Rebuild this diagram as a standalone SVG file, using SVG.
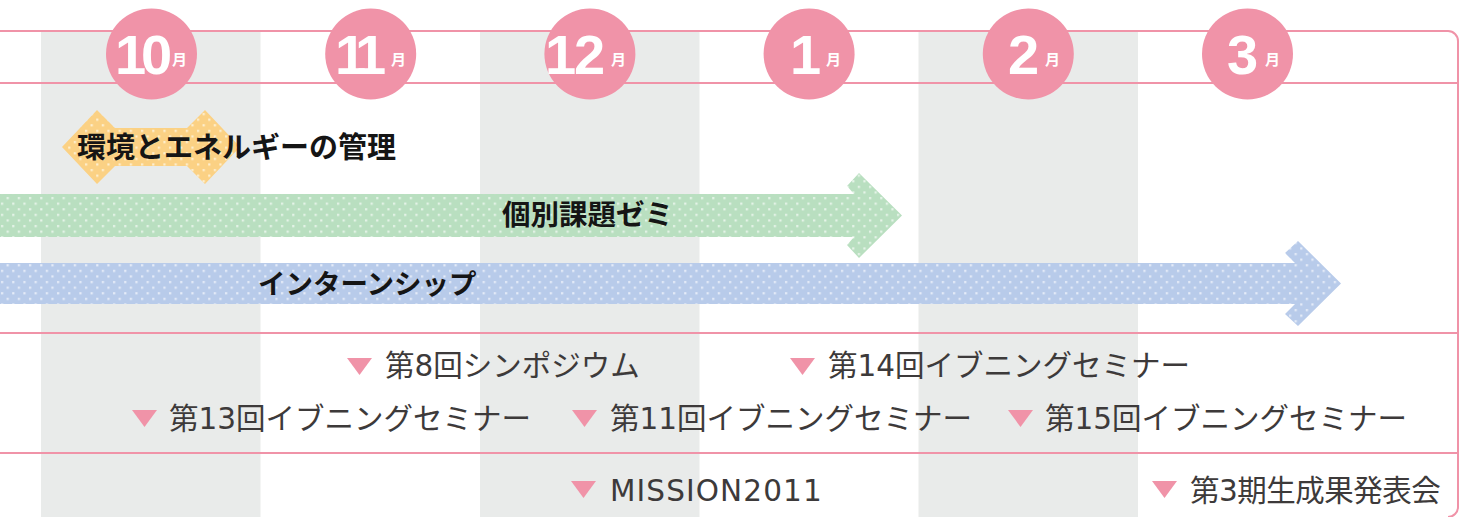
<svg xmlns="http://www.w3.org/2000/svg" xmlns:xlink="http://www.w3.org/1999/xlink" width="1461" height="517" viewBox="0 0 1461 517">
  <defs>
    <style>
      .col { fill: #e9ebea; }
      .line { stroke: #f093a8; stroke-width: 2; fill: none; }
      .circ { fill: #f093a8; }
      .num { font-family: "Liberation Sans", Arial, sans-serif; font-weight: bold; font-size: 56px; fill: #ffffff; }
      .mon { font-family: "Noto Sans CJK JP", sans-serif; font-weight: bold; font-size: 15px; fill: #ffffff; }
      .title { font-family: "Noto Sans CJK JP", sans-serif; font-weight: bold; fill: #151515; }
      .ev { font-family: "DejaVu Sans", "Noto Sans CJK JP", sans-serif; font-size: 29.5px; fill: #3d3a3a; }
      .tri { fill: #f093a8; }
    </style>
    <pattern id="dotsG" width="11.2" height="11.2" patternUnits="userSpaceOnUse">
      <rect width="11.2" height="11.2" fill="#b9dfc0"/>
      <rect x="1" y="1" width="2.2" height="2.2" fill="#e6f4e9"/>
      <rect x="6.6" y="6.6" width="2.2" height="2.2" fill="#e6f4e9"/>
    </pattern>
    <pattern id="dotsB" width="11.2" height="11.2" patternUnits="userSpaceOnUse">
      <rect width="11.2" height="11.2" fill="#b8cbea"/>
      <rect x="1" y="1" width="2.2" height="2.2" fill="#e5ecf8"/>
      <rect x="6.6" y="6.6" width="2.2" height="2.2" fill="#e5ecf8"/>
    </pattern>
    <pattern id="dotsO" width="11.2" height="11.2" patternUnits="userSpaceOnUse">
      <rect width="11.2" height="11.2" fill="#fbd184"/>
      <rect x="1" y="1" width="2.2" height="2.2" fill="#feefd0"/>
      <rect x="6.6" y="6.6" width="2.2" height="2.2" fill="#feefd0"/>
    </pattern>
    <path id="tri" d="M0,0 H25 L12.5,17 Z"/>
  </defs>

  <rect width="1461" height="517" fill="#ffffff"/>

  <g id="columns">
    <rect class="col" x="41" y="31" width="219.5" height="486"/>
    <rect class="col" x="480" y="31" width="219.5" height="486"/>
    <rect class="col" x="918.5" y="31" width="219.5" height="486"/>
  </g>

  <g id="grid">
    <path class="line" d="M0,31 H1448 A10,10 0 0 1 1458,41 V507 A10,10 0 0 1 1448,517"/>
    <line class="line" x1="0" y1="83" x2="1458" y2="83"/>
    <line class="line" x1="0" y1="333" x2="1458" y2="333"/>
    <line class="line" x1="0" y1="453" x2="1458" y2="453"/>
  </g>

  <g id="month-10">
    <circle class="circ" cx="151.5" cy="54" r="45.5"/>
    <text class="num" x="115 141" y="74">10</text>
    <text class="mon" x="172" y="65">月</text>
  </g>
  <g id="month-11">
    <circle class="circ" cx="370.7" cy="54" r="45.5"/>
    <text class="num" x="335 355" y="74">11</text>
    <text class="mon" x="391" y="65">月</text>
  </g>
  <g id="month-12">
    <circle class="circ" cx="589.9" cy="54" r="45.5"/>
    <text class="num" x="545 574" y="74">12</text>
    <text class="mon" x="611" y="65">月</text>
  </g>
  <g id="month-1">
    <circle class="circ" cx="809.1" cy="54" r="45.5"/>
    <text class="num" x="790" y="74">1</text>
    <text class="mon" x="826" y="65">月</text>
  </g>
  <g id="month-2">
    <circle class="circ" cx="1028.3" cy="54" r="45.5"/>
    <text class="num" x="1008" y="74">2</text>
    <text class="mon" x="1045" y="65">月</text>
  </g>
  <g id="month-3">
    <circle class="circ" cx="1247.5" cy="54" r="45.5"/>
    <text class="num" x="1227" y="74">3</text>
    <text class="mon" x="1265" y="65">月</text>
  </g>

  <g id="bar-energy">
    <polygon fill="url(#dotsO)" points="62,147 97,110 109,122 115,128 187,128 193,122 205,110 240,147 205,184 193,172 187,166 115,166 109,172 97,184"/>
    <text class="title" x="77" y="158" font-size="29">環境とエネルギーの管理</text>
  </g>
  <g id="bar-seminar">
    <polygon fill="url(#dotsG)" points="0,194 854,194 847,186 859,173 902,215.5 859,258 847,245 854,237 0,237"/>
    <text class="title" x="502" y="224.5" font-size="28.5">個別課題ゼミ</text>
  </g>
  <g id="bar-intern">
    <polygon fill="url(#dotsB)" points="0,263 1295,263 1285,253 1298,241 1341,283.5 1298,326 1285,314 1295,304 0,304"/>
    <text class="title" x="258" y="293.5" font-size="27.5">インターンシップ</text>
  </g>

  <g id="ev-symposium8">
    <use xlink:href="#tri" class="tri" x="347" y="358"/>
    <text class="ev" x="385" y="376">第8回シンポジウム</text>
  </g>
  <g id="ev-evening14">
    <use xlink:href="#tri" class="tri" x="790" y="358"/>
    <text class="ev" x="828" y="376">第14回イブニングセミナー</text>
  </g>
  <g id="ev-evening13">
    <use xlink:href="#tri" class="tri" x="132" y="410"/>
    <text class="ev" x="169" y="429">第13回イブニングセミナー</text>
  </g>
  <g id="ev-evening11">
    <use xlink:href="#tri" class="tri" x="572" y="410"/>
    <text class="ev" x="610" y="429">第11回イブニングセミナー</text>
  </g>
  <g id="ev-evening15">
    <use xlink:href="#tri" class="tri" x="1008" y="410"/>
    <text class="ev" x="1045" y="429">第15回イブニングセミナー</text>
  </g>
  <g id="ev-mission">
    <use xlink:href="#tri" class="tri" x="571" y="481"/>
    <text class="ev" x="610" y="501" letter-spacing="1.1">MISSION2011</text>
  </g>
  <g id="ev-presentation">
    <use xlink:href="#tri" class="tri" x="1152" y="481"/>
    <text class="ev" x="1190" y="501" letter-spacing="-0.5">第3期生成果発表会</text>
  </g>
</svg>
